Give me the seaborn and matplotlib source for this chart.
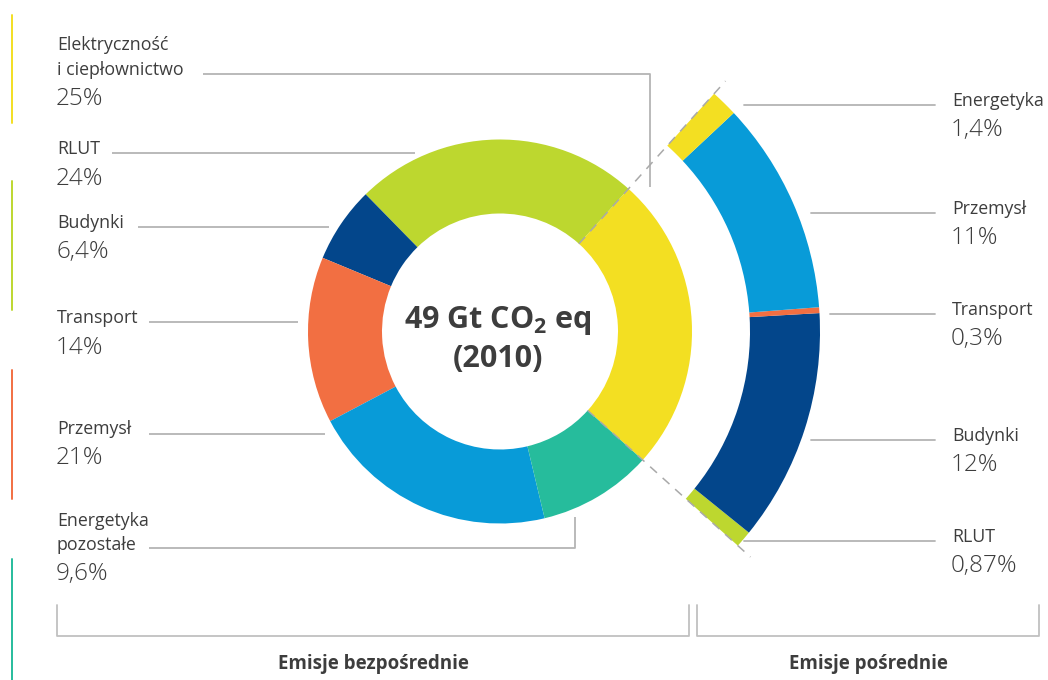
import numpy as np
import matplotlib
matplotlib.use("Agg")
import matplotlib.pyplot as plt
import seaborn as sns

# --- data -------------------------------------------------------------
# direct emissions (inner ring), counter-clockwise starting at lower right
direct_labels = ["Elektryczność\ni ciepłownictwo", "RLUT", "Budynki",
                 "Transport", "Przemysł", "Energetyka\npozostałe"]
direct_values = [25, 24, 6.4, 14, 21, 9.6]
direct_text = ["25%", "24%", "6,4%", "14%", "21%", "9,6%"]
direct_keys = ["elec", "rlut", "bud", "trans", "prz", "energ"]

# indirect emissions (outer arc), counter-clockwise from bottom
indirect_labels = ["RLUT", "Budynki", "Transport", "Przemysł", "Energetyka"]
indirect_values = [0.87, 12, 0.3, 11, 1.4]
indirect_text = ["0,87%", "12%", "0,3%", "11%", "1,4%"]
indirect_keys = ["rlut", "bud", "trans", "prz", "elec"]

center_title = r"49 Gt CO$_\mathrm{2}$ eq"
center_year = "(2010)"
group_labels = ["Emisje bezpośrednie", "Emisje pośrednie"]

# --- style ------------------------------------------------------------
sns.set_theme(style="white")
plt.rcParams["font.family"] = ["Open Sans", "DejaVu Sans"]
plt.rcParams["mathtext.fontset"] = "custom"
plt.rcParams["mathtext.rm"] = "Open Sans:bold"

colors = dict(zip(direct_keys, sns.color_palette(
    ["#F3DF22", "#BDD72F", "#03468B", "#F26F42", "#089BD8", "#26BC9C"])))
text_col = "#3d3d3d"
line_col = "#b4b4b4"

W, H = 1048, 680
cx, cy = 500, 331.5

fig = plt.figure(figsize=(W / 100, H / 100), dpi=100)
ax = fig.add_axes([0, 0, 1, 1])

# y axis is inverted below (pixel coords), so angles run the other way
start = 42
ax.pie(direct_values, colors=[colors[k] for k in direct_keys],
       startangle=start, counterclock=False, radius=192, center=(cx, cy),
       wedgeprops=dict(width=74, linewidth=0))

filler = sum(indirect_values) * (100 - direct_values[0]) / direct_values[0]
ax.pie(indirect_values + [filler],
       colors=[colors[k] for k in indirect_keys] + ["none"],
       startangle=start, counterclock=False, radius=320, center=(cx, cy),
       wedgeprops=dict(width=70, linewidth=0))

# dashed guides along the borders of the exploded slice
for ang in [start, start - direct_values[0] / 100 * 360]:
    t = np.deg2rad(ang)
    r = np.array([118, 337])
    ax.plot(cx + r * np.cos(t), cy + r * np.sin(t), color="#a9a9a9",
            lw=1.1, dashes=(6, 5), zorder=5)

# centre text
ax.text(498, 328.3, center_title, ha="center", va="baseline", fontsize=22,
        fontweight="bold", color=text_col)
ax.text(498, 367.3, center_year, ha="center", va="baseline", fontsize=22,
        fontweight="bold", color=text_col)

# left labels
left_base = [75, 154.3, 227.7, 323.3, 434, 550]
left_leaders = [[(203, 73.5), (650, 73.5), (650, 187)],
                [(112, 153.3), (415, 153.3)],
                [(138, 227), (329, 227)],
                [(149, 322.3), (298, 322.3)],
                [(149, 433.5), (325, 433.5)],
                [(149, 548.3), (575, 548.3), (575, 517)]]
for lab, val, yb, pts in zip(direct_labels, direct_text, left_base, left_leaders):
    lines = lab.split("\n")
    for i, ln in enumerate(lines):
        ax.text(57, yb - 24.5 * (len(lines) - 1 - i), ln, ha="left",
                va="baseline", fontsize=12.8, color=text_col)
    ax.text(56, yb + 30.3, val, ha="left", va="baseline", fontsize=17.5,
            fontweight="light", color=text_col)
    xs, ys = zip(*pts)
    ax.plot(xs, ys, color=line_col, lw=1.3, solid_capstyle="butt")

# right labels
right_base = [541.7, 441, 315.3, 214, 105.7]
right_start = [744, 811, 830, 811, 744]
for lab, val, yb, x0 in zip(indirect_labels, indirect_text, right_base, right_start):
    ax.text(952, yb, lab, ha="left", va="baseline", fontsize=12.8,
            color=text_col)
    ax.text(951, yb + 30.2, val, ha="left", va="baseline", fontsize=17.5,
            fontweight="light", color=text_col)
    ax.plot([x0, 935], [yb - 1, yb - 1], color=line_col, lw=1.3)

# group brackets
for (x0, x1), lab in zip([(57, 689), (697, 1039)], group_labels):
    ax.plot([x0, x0, x1, x1], [605, 636, 636, 605], color="#c0c0c0", lw=1.3)
    ax.text((x0 + x1) / 2, 669.3, lab, ha="center", va="baseline",
            fontsize=13.5, fontweight="bold", color=text_col)

# thin coloured markers on the left edge
for key, (y0, y1) in zip(["elec", "rlut", "trans", "energ"],
                         [(15, 123), (181, 310), (370, 499), (559, 680)]):
    ax.plot([12, 12], [y0, y1], color=colors[key], lw=1.4)

ax.set_xlim(0, W)
ax.set_ylim(H, 0)
ax.set_aspect("auto")
ax.axis("off")

fig.savefig("out.png", dpi=100, facecolor="white")
